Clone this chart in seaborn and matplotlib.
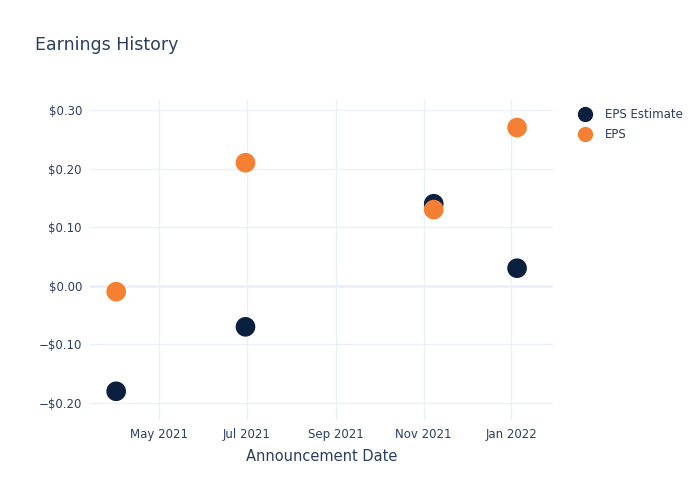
import matplotlib
matplotlib.use("Agg")
import matplotlib.pyplot as plt
import matplotlib.dates as mdates
import matplotlib.ticker as mticker
import seaborn as sns
import pandas as pd
import numpy as np

dates = ["2021-04-01", "2021-06-30", "2021-11-08", "2022-01-05"]
eps_estimate = [-0.18, -0.07, 0.14, 0.03]
eps_actual = [-0.01, 0.21, 0.13, 0.27]
series_names = ["EPS Estimate", "EPS"]
colors = ["#0b1f3f", "#f58034"]

df = pd.DataFrame({
    "date": pd.to_datetime(dates * 2),
    "value": eps_estimate + eps_actual,
    "series": [series_names[0]] * len(dates) + [series_names[1]] * len(dates),
})

sns.set_style("white")
plt.rcParams["font.family"] = ["DejaVu Sans"]
text_color = "#2a3f5f"
grid_color = "#ebf0f8"

fig = plt.figure(figsize=(7, 5), dpi=100)
ax = fig.add_axes([0.129, 0.16, 0.661, 0.64])

sns.scatterplot(data=df, x="date", y="value", hue="series",
                palette=dict(zip(series_names, colors)), s=200,
                edgecolor="none", ax=ax, legend=False, zorder=3)

ax.set_xlim(pd.Timestamp("2021-03-14"), pd.Timestamp("2022-01-30"))
ax.set_ylim(-0.229, 0.317)

ax.xaxis.set_major_locator(mdates.MonthLocator(bymonth=[1, 3, 5, 7, 9, 11]))
ax.xaxis.set_major_formatter(mdates.DateFormatter("%b %Y"))
ax.set_yticks([-0.2, -0.1, 0.0, 0.1, 0.2, 0.3])
ax.yaxis.set_major_formatter(mticker.FuncFormatter(
    lambda v, p: ("\u2212$%.2f" % abs(v)) if v < -1e-9 else ("$%.2f" % abs(v))))

ax.grid(True, color=grid_color, linewidth=1)
ax.axhline(0, color=grid_color, linewidth=2, zorder=1)
for s in ax.spines.values():
    s.set_visible(False)
ax.tick_params(axis="both", length=0, labelsize=8.5, colors=text_color, pad=6)
ax.set_xlabel("Announcement Date", fontsize=10.5, color=text_color, labelpad=5.5)
ax.set_ylabel("")

fig.text(0.05, 0.9, "Earnings History", fontsize=12.5, color=text_color)

handles = [plt.Line2D([], [], marker="o", linestyle="", markersize=11,
                      markerfacecolor=c, markeredgecolor="none") for c in colors]
leg = fig.legend(handles, series_names, loc="upper left",
                 bbox_to_anchor=(0.812, 0.793), frameon=False,
                 fontsize=8.5, labelspacing=0.55, handletextpad=0.7,
                 borderaxespad=0)
for t in leg.get_texts():
    t.set_color(text_color)

fig.savefig("out.png", dpi=100)
